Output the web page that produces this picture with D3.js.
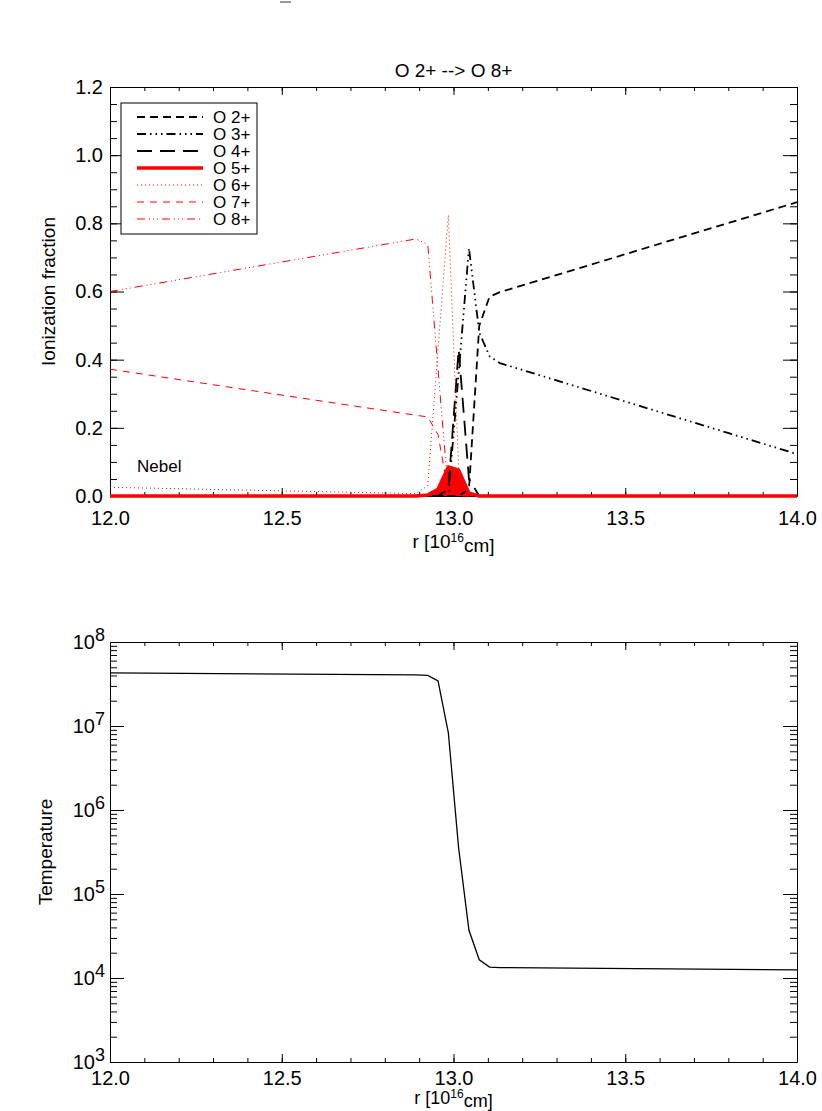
<!DOCTYPE html>
<html>
<head>
<meta charset="utf-8">
<script src="https://cdn.jsdelivr.net/npm/d3@7"></script>
<style>
body { margin: 0; background: #fff; }
</style>
</head>
<body>
<div id="main"></div>
<script>
const width = 822;
const height = 1111;

// radius grid [10^16 cm] shared by all series
const radius = [12.0, 12.89, 12.925, 12.955, 12.985, 13.015, 13.045, 13.075, 13.105, 13.135, 14.0];

// ionization fractions
const o2 = [0, 0, 0, 0, 0, 0, 0.02, 0.50, 0.585, 0.598, 0.862];
const o3 = [0, 0, 0, 0, 0, 0.36, 0.727, 0.48, 0.41, 0.39, 0.123];
const o4 = [0, 0, 0, 0, 0.02, 0.43, 0.05, 0, 0, 0, 0];
const o5 = [0, 0, 0.003, 0.02, 0.085, 0.076, 0.008, 0, 0, 0, 0];
const o6 = [0.0255, 0.007, 0.03, 0.43, 0.824, 0.08, 0.005, 0, 0, 0, 0];
const o7 = [0.372, 0.237, 0.232, 0.18, 0.01, 0, 0, 0, 0, 0, 0];
const o8 = [0.60, 0.754, 0.739, 0.37, 0.01, 0, 0, 0, 0, 0, 0];

const temperature = [4.3e7, 4.05e7, 4.0e7, 3.45e7, 8.3e6, 3.5e5, 3.7e4, 1.65e4, 1.35e4, 1.33e4, 1.25e4];

const ionNames = ["O 2+", "O 3+", "O 4+", "O 5+", "O 6+", "O 7+", "O 8+"];
const ionSeries = [o2, o3, o4, o5, o6, o7, o8];

const xTicks = [12.0, 12.5, 13.0, 13.5, 14.0];
const xMinor = d3.range(12.0, 14.001, 0.1);
const fracTicks = [0.0, 0.2, 0.4, 0.6, 0.8, 1.0, 1.2];
const fracMinor = d3.range(0, 1.2001, 0.05);
const tempTicks = [1e3, 1e4, 1e5, 1e6, 1e7, 1e8];

const FONT = "'Liberation Sans', Arial, Helvetica, sans-serif";

// line styles (IDL-ish)
const styles = [
  { color: "#000", w: 1.8, dash: "8,5" },
  { color: "#000", w: 1.8, dash: "9,4,1.5,4,1.5,4,1.5,4" },
  { color: "#000", w: 1.8, dash: "15,8" },
  { color: "#ff0000", w: 3.5, dash: null },
  { color: "#ff0000", w: 1, dash: "1,3" },
  { color: "#ff0000", w: 1, dash: "7,6" },
  { color: "#ff0000", w: 1, dash: "8,4,1,3,1,3,1,4" }
];

const left = 110, right = 797;
const top1 = 87, bottom1 = 496;
const top2 = 642, bottom2 = 1062;

const svg = d3.select("#main").append("svg")
  .attr("width", width)
  .attr("height", height)
  .style("font-family", FONT);

const x = d3.scaleLinear().domain([12, 14]).range([left, right]);
const yFrac = d3.scaleLinear().domain([0, 1.2]).range([bottom1, top1]);
const yTemp = d3.scaleLog().domain([1e3, 1e8]).range([bottom2, top2]);

function styleAxis(g, size) {
  g.attr("font-family", FONT).attr("font-size", size);
  g.selectAll("line").attr("stroke", "#000");
  g.selectAll("path").attr("stroke", "#000");
  g.selectAll("text").attr("fill", "#000");
}

function xAxes(bottom, top, pad) {
  svg.append("g").attr("transform", `translate(0,${bottom})`)
    .call(d3.axisBottom(x).tickValues(xTicks).tickSize(-8).tickSizeOuter(0)
      .tickPadding(pad).tickFormat(d3.format(".1f")))
    .call(g => styleAxis(g, 20));
  svg.append("g").attr("transform", `translate(0,${bottom})`)
    .call(d3.axisBottom(x).tickValues(xMinor).tickSize(-4).tickFormat(""))
    .call(g => g.select(".domain").remove())
    .call(g => styleAxis(g, 20));
  svg.append("g").attr("transform", `translate(0,${top})`)
    .call(d3.axisTop(x).tickValues(xTicks).tickSize(-8).tickSizeOuter(0).tickFormat(""))
    .call(g => styleAxis(g, 20));
  svg.append("g").attr("transform", `translate(0,${top})`)
    .call(d3.axisTop(x).tickValues(xMinor).tickSize(-4).tickFormat(""))
    .call(g => g.select(".domain").remove())
    .call(g => styleAxis(g, 20));
}

function xTitle(yPos, size) {
  const t = svg.append("text")
    .attr("x", (left + right) / 2).attr("y", yPos)
    .attr("text-anchor", "middle").attr("font-size", size);
  t.append("tspan").text("r [10");
  t.append("tspan").attr("dy", "-0.5em").attr("font-size", 12).text("16");
  t.append("tspan").attr("dy", "0.5em").text("cm]");
}

// ---------- top panel ----------
xAxes(bottom1, top1, 15);

svg.append("g").attr("transform", `translate(${left},0)`)
  .call(d3.axisLeft(yFrac).tickValues(fracTicks).tickSize(-14).tickSizeOuter(0)
    .tickPadding(7).tickFormat(d3.format(".1f")))
  .call(g => styleAxis(g, 20));
svg.append("g").attr("transform", `translate(${left},0)`)
  .call(d3.axisLeft(yFrac).tickValues(fracMinor).tickSize(-7).tickFormat(""))
  .call(g => g.select(".domain").remove())
  .call(g => styleAxis(g, 20));
svg.append("g").attr("transform", `translate(${right},0)`)
  .call(d3.axisRight(yFrac).tickValues(fracTicks).tickSize(-14).tickSizeOuter(0).tickFormat(""))
  .call(g => styleAxis(g, 20));
svg.append("g").attr("transform", `translate(${right},0)`)
  .call(d3.axisRight(yFrac).tickValues(fracMinor).tickSize(-7).tickFormat(""))
  .call(g => g.select(".domain").remove())
  .call(g => styleAxis(g, 20));

svg.append("text")
  .attr("x", (left + right) / 2).attr("y", 77)
  .attr("text-anchor", "middle").attr("font-size", 19)
  .text("O 2+ --> O 8+");

svg.append("text")
  .attr("transform", `translate(55,${(top1 + bottom1) / 2}) rotate(-90)`)
  .attr("text-anchor", "middle").attr("font-size", 19)
  .text("Ionization fraction");

xTitle(548, 19);

// O5+ filled bump under its thick line
svg.append("path")
  .datum(radius)
  .attr("fill", "#ff0000")
  .attr("d", d3.area()
    .x(d => x(d))
    .y0(yFrac(0))
    .y1((d, i) => yFrac(o5[i])));

const line = d3.line();
ionSeries.forEach((vals, k) => {
  const s = styles[k];
  svg.append("path")
    .datum(radius.map((r, i) => [x(r), yFrac(vals[i])]))
    .attr("fill", "none")
    .attr("stroke", s.color)
    .attr("stroke-width", s.w)
    .attr("stroke-dasharray", s.dash)
    .attr("stroke-linejoin", "round")
    .attr("d", line);
});

// legend
const legend = svg.append("g");
legend.append("rect")
  .attr("x", 121).attr("y", 103).attr("width", 136).attr("height", 131)
  .attr("fill", "#fff").attr("stroke", "#000").attr("stroke-width", 1);
const rows = legend.selectAll("g.row").data(ionNames).join("g")
  .attr("class", "row")
  .attr("transform", (d, i) => `translate(0,${117 + i * 17})`);
rows.append("line")
  .attr("x1", 137).attr("x2", 203)
  .attr("stroke", (d, i) => styles[i].color)
  .attr("stroke-width", (d, i) => styles[i].w)
  .attr("stroke-dasharray", (d, i) => styles[i].dash);
rows.append("text")
  .attr("x", 213).attr("y", 6)
  .attr("font-size", 17)
  .text(d => d);

svg.append("text")
  .attr("x", 137).attr("y", 472)
  .attr("font-size", 17)
  .text("Nebel");

// stray mark at the top of the page
svg.append("line")
  .attr("x1", 280).attr("x2", 291).attr("y1", 2).attr("y2", 2)
  .attr("stroke", "#999").attr("stroke-width", 2);

// ---------- bottom panel ----------
xAxes(bottom2, top2, 9);

const tempMinor = [];
for (let e = 3; e < 8; e++) for (let m = 2; m <= 9; m++) tempMinor.push(m * Math.pow(10, e));

svg.append("g").attr("transform", `translate(${left},0)`)
  .call(d3.axisLeft(yTemp).tickValues(tempTicks).tickSize(-14).tickSizeOuter(0).tickPadding(5))
  .call(g => styleAxis(g, 20))
  .call(g => g.selectAll(".tick text").each(function (d) {
    const t = d3.select(this).text(null);
    t.append("tspan").text("10");
    t.append("tspan").attr("dy", "-0.45em").attr("font-size", 18)
      .text(Math.round(Math.log10(d)));
  }));
svg.append("g").attr("transform", `translate(${left},0)`)
  .call(d3.axisLeft(yTemp).tickValues(tempMinor).tickSize(-7).tickFormat(""))
  .call(g => g.select(".domain").remove())
  .call(g => styleAxis(g, 20));
svg.append("g").attr("transform", `translate(${right},0)`)
  .call(d3.axisRight(yTemp).tickValues(tempTicks).tickSize(-14).tickSizeOuter(0).tickFormat(""))
  .call(g => styleAxis(g, 20));
svg.append("g").attr("transform", `translate(${right},0)`)
  .call(d3.axisRight(yTemp).tickValues(tempMinor).tickSize(-7).tickFormat(""))
  .call(g => g.select(".domain").remove())
  .call(g => styleAxis(g, 20));

svg.append("text")
  .attr("transform", `translate(52,${(top2 + bottom2) / 2}) rotate(-90)`)
  .attr("text-anchor", "middle").attr("font-size", 19)
  .text("Temperature");

xTitle(1104, 18);

svg.append("path")
  .datum(radius.map((r, i) => [x(r), yTemp(temperature[i])]))
  .attr("fill", "none")
  .attr("stroke", "#000")
  .attr("stroke-width", 1.3)
  .attr("d", line);
</script>
</body>
</html>
